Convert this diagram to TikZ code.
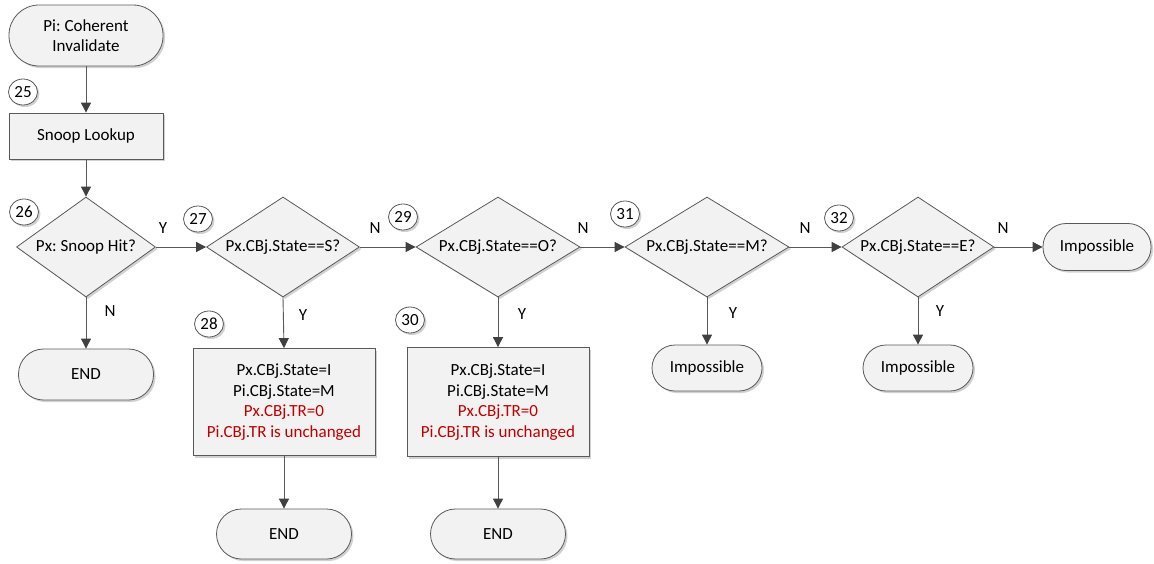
\documentclass[tikz,border=0pt]{standalone}
\usepackage{fontspec}
\setmainfont{Carlito}
\frenchspacing
\usetikzlibrary{shapes.geometric,arrows.meta,shadows}
\definecolor{linegray}{RGB}{89,89,89}
\definecolor{tipgray}{RGB}{64,64,64}
\definecolor{boxfill}{RGB}{242,242,242}
\definecolor{note}{RGB}{192,0,0}
\begin{document}
\begin{tikzpicture}[x=1pt,y=-1pt,
  every node/.style={font=\fontsize{17}{20.5}\selectfont},
  shade/.style={drop shadow={shadow xshift=2pt,shadow yshift=-2pt,fill=black!18,opacity=1}},
  term/.style={draw=linegray, line width=0.8pt, fill=boxfill, rectangle, inner sep=0pt, shade, align=center},
  proc/.style={draw=linegray, line width=0.8pt, fill=boxfill, rectangle, inner sep=0pt, shade, align=center},
  dec/.style={draw=linegray, line width=0.8pt, fill=boxfill, diamond, inner sep=0pt, minimum height=100pt, shade},
  tag/.style={draw=linegray, line width=0.8pt, fill=white, ellipse, minimum width=29pt, minimum height=26pt, inner sep=0pt, shade},
  lab/.style={inner sep=0pt},
  arr/.style={draw=linegray, line width=0.9pt, -{Triangle[length=10pt,width=10pt,color=tipgray]}},
]
\useasboundingbox (0,0) rectangle (1154,563);

% terminators and process boxes
\node[term, minimum width=154pt, minimum height=61pt, rounded corners=30pt] (start) at (86,35.5) {Pi: Coherent\\Invalidate};
\node[proc, minimum width=154pt, minimum height=46pt] (lookup) at (86,136) {Snoop Lookup};

% decisions
\node[dec, minimum width=139pt, label=center:{Px: Snoop Hit?}] (d26) at (86,247) {};
\node[dec, minimum width=153pt, label=center:{Px.CBj.State==S?}] (d27) at (283,247) {};
\node[dec, minimum width=164pt, label=center:{Px.CBj.State==O?}] (d29) at (498,247) {};
\node[dec, minimum width=164pt, label=center:{Px.CBj.State==M?}] (d31) at (707,247) {};
\node[dec, minimum width=152pt, label=center:{Px.CBj.State==E?}] (d32) at (918,247) {};

% outcomes
\node[term, minimum width=108pt, minimum height=47pt, rounded corners=23pt] (impN) at (1097,247) {Impossible};
\node[term, minimum width=135pt, minimum height=51pt, rounded corners=25pt] (end26) at (86,374.5) {END};
\node[proc, minimum width=182pt, minimum height=107pt] (box28) at (284,402) {Px.CBj.State=I\\Pi.CBj.State=M\\\textcolor{note}{Px.CBj.TR=0}\\\textcolor{note}{Pi.CBj.TR is unchanged}};
\node[proc, minimum width=182pt, minimum height=109pt] (box30) at (498,402) {Px.CBj.State=I\\Pi.CBj.State=M\\\textcolor{note}{Px.CBj.TR=0}\\\textcolor{note}{Pi.CBj.TR is unchanged}};
\node[term, minimum width=135pt, minimum height=50pt, rounded corners=25pt] (end28) at (284,534) {END};
\node[term, minimum width=135pt, minimum height=50pt, rounded corners=25pt] (end30) at (498,534) {END};
\node[term, minimum width=110pt, minimum height=46pt, rounded corners=23pt] (imp31) at (707,368) {Impossible};
\node[term, minimum width=110pt, minimum height=46pt, rounded corners=23pt] (imp32) at (918,368) {Impossible};

% step numbers
\node[tag] (t25) at (23,92) {25};
\node[tag] (t26) at (24,212) {26};
\node[tag] (t27) at (198,219) {27};
\node[tag] (t28) at (209,324) {28};
\node[tag] (t29) at (403,217) {29};
\node[tag] (t30) at (410,320) {30};
\node[tag] (t31) at (625,214) {31};
\node[tag] (t32) at (839,218) {32};

% connectors
\draw[arr] (start.south) -- (lookup.north);
\draw[arr] (lookup.south) -- (d26.north);
\draw[arr] (d26.east) -- (d27.west);
\draw[arr] (d27.east) -- (d29.west);
\draw[arr] (d29.east) -- (d31.west);
\draw[arr] (d31.east) -- (d32.west);
\draw[arr] (d32.east) -- (impN.west);
\draw[arr] (d26.south) -- (end26.north);
\draw[arr] (d27.south) -- (box28.north);
\draw[arr] (box28.south) -- (end28.north);
\draw[arr] (d29.south) -- (box30.north);
\draw[arr] (box30.south) -- (end30.north);
\draw[arr] (d31.south) -- (imp31.north);
\draw[arr] (d32.south) -- (imp32.north);

% branch labels
\node[lab] (y26) at (163,228) {Y};
\node[lab] (n27) at (375,228) {N};
\node[lab] (n29) at (583,228) {N};
\node[lab] (n31) at (805,228) {N};
\node[lab] (n32) at (1003,228) {N};
\node[lab] (n26) at (110,311) {N};
\node[lab] (y27) at (303,315) {Y};
\node[lab] (y29) at (522,314) {Y};
\node[lab] (y31) at (733,313) {Y};
\node[lab] (y32) at (940,311) {Y};
\end{tikzpicture}
\end{document}
